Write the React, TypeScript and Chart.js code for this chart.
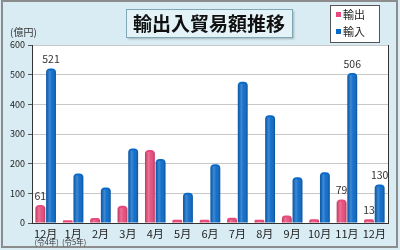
import React, { useEffect, useRef } from "react";
import { Chart, registerables } from "chart.js";

Chart.register(...registerables);

const months = ["12月", "1月", "2月", "3月", "4月", "5月", "6月", "7月", "8月", "9月", "10月", "11月", "12月"];
const subLabels = ["(令4年)", "(令5年)", "", "", "", "", "", "", "", "", "", "", ""];
const exportsData = [61, 9, 17, 58, 246, 11, 11, 18, 11, 25, 13, 79, 13];
const importsData = [521, 167, 120, 251, 216, 102, 198, 476, 363, 154, 171, 506, 130];
const labelIndices = [0, 11, 12];
const yTicks = [0, 100, 200, 300, 400, 500, 600];

const FONT = '"Noto Sans CJK JP", "Noto Sans", sans-serif';
const PINK = "#e8497a";
const BLUE = "#0868c8";

const decorPlugin = {
  id: "decor",
  beforeDraw(chart: any) {
    const ctx = chart.ctx;
    const { width, height } = chart;
    ctx.save();
    ctx.fillStyle = "#d9ecf3";
    ctx.fillRect(0, 0, width, height);
    ctx.strokeStyle = "#8c8c8c";
    ctx.lineWidth = 2;
    ctx.strokeRect(2, 1, width - 5, height - 4);
    const ca = chart.chartArea;
    ctx.fillStyle = "#ffffff";
    ctx.fillRect(ca.left, ca.top, ca.right - ca.left, ca.bottom - ca.top);
    // title box
    ctx.shadowColor = "rgba(0,0,0,0.25)";
    ctx.shadowOffsetX = 2;
    ctx.shadowOffsetY = 2;
    ctx.shadowBlur = 2;
    ctx.fillStyle = "#e4f3f8";
    ctx.fillRect(126, 9, 166, 28);
    ctx.shadowColor = "transparent";
    ctx.strokeStyle = "#7fa7b6";
    ctx.lineWidth = 1;
    ctx.strokeRect(126.5, 9.5, 166, 28);
    ctx.fillStyle = "#111";
    ctx.font = "bold 19px " + FONT;
    ctx.textAlign = "center";
    ctx.textBaseline = "middle";
    ctx.fillText("輸出入貿易額推移", 209, 24);
    // legend
    ctx.fillStyle = "#ffffff";
    ctx.fillRect(330, 5, 49, 37);
    ctx.strokeStyle = "#555";
    ctx.strokeRect(330.5, 5.5, 49, 37);
    ctx.fillStyle = PINK;
    ctx.fillRect(336, 12, 5, 5);
    ctx.fillStyle = BLUE;
    ctx.fillRect(336, 29, 5, 5);
    ctx.fillStyle = "#222";
    ctx.font = "11px " + FONT;
    ctx.textAlign = "left";
    ctx.fillText("輸出", 343, 15);
    ctx.fillText("輸入", 343, 32);
    // unit
    ctx.font = "10px " + FONT;
    ctx.fillStyle = "#333";
    ctx.fillText("(億円)", 10, 32);
    ctx.restore();
  },
  afterDatasetsDraw(chart: any) {
    const ctx = chart.ctx;
    ctx.save();
    // cylinder shading
    chart.data.datasets.forEach((_: any, di: number) => {
      const meta = chart.getDatasetMeta(di);
      meta.data.forEach((bar: any) => {
        const w = bar.width;
        const l = bar.x - w / 2;
        const g = ctx.createLinearGradient(l, 0, l + w, 0);
        g.addColorStop(0, "rgba(0,0,0,0.18)");
        g.addColorStop(0.35, "rgba(255,255,255,0.22)");
        g.addColorStop(0.6, "rgba(255,255,255,0.05)");
        g.addColorStop(1, "rgba(0,0,0,0.22)");
        ctx.fillStyle = g;
        const top = Math.min(bar.y, bar.base);
        const h = Math.abs(bar.base - bar.y);
        ctx.fillRect(l, top + 2, w, Math.max(0, h - 2));
      });
    });
    // value labels
    ctx.font = "10.5px " + FONT;
    ctx.fillStyle = "#333";
    ctx.textAlign = "center";
    ctx.textBaseline = "bottom";
    chart.data.datasets.forEach((ds: any, di: number) => {
      const meta = chart.getDatasetMeta(di);
      labelIndices.forEach((i) => {
        const bar = meta.data[i];
        ctx.fillText(String(ds.data[i]), bar.x, bar.y - 4);
      });
    });
    ctx.restore();
  },
  afterDraw(chart: any) {
    const ctx = chart.ctx;
    const ca = chart.chartArea;
    ctx.save();
    ctx.strokeStyle = "#333";
    ctx.lineWidth = 1;
    ctx.beginPath();
    ctx.moveTo(ca.right + 0.5, ca.top);
    ctx.lineTo(ca.right + 0.5, ca.bottom);
    ctx.stroke();
    const xs = chart.scales.x;
    ctx.font = "7.5px " + FONT;
    ctx.fillStyle = "#333";
    ctx.textAlign = "center";
    ctx.textBaseline = "middle";
    subLabels.forEach((s, i) => {
      if (s) ctx.fillText(s, xs.getPixelForValue(i) + 1, 242);
    });
    ctx.restore();
  },
};

export default function App() {
  const ref = useRef<HTMLCanvasElement | null>(null);
  useEffect(() => {
    if (!ref.current) return;
    const chart = new Chart(ref.current, {
      type: "bar",
      data: {
        labels: months,
        datasets: [
          {
            label: "輸出",
            data: exportsData,
            backgroundColor: PINK,
            borderRadius: { topLeft: 4, topRight: 4, bottomLeft: 0, bottomRight: 0 },
            borderSkipped: false,
            categoryPercentage: 0.78,
            barPercentage: 0.92,
          },
          {
            label: "輸入",
            data: importsData,
            backgroundColor: BLUE,
            borderRadius: { topLeft: 4, topRight: 4, bottomLeft: 0, bottomRight: 0 },
            borderSkipped: false,
            categoryPercentage: 0.78,
            barPercentage: 0.92,
          },
        ],
      },
      options: {
        animation: false,
        responsive: true,
        maintainAspectRatio: false,
        layout: { padding: { left: 0, top: 45, right: 12, bottom: 0 } },
        plugins: { legend: { display: false }, tooltip: { enabled: false } },
        scales: {
          x: {
            grid: { display: false, drawTicks: false },
            border: { display: true, color: "#333", width: 1 },
            ticks: { font: { size: 11, family: FONT }, color: "#222", padding: 4, maxRotation: 0, autoSkip: false },
            afterFit: (s: any) => { s.height = 27; },
          },
          y: {
            min: 0,
            max: 600,
            afterBuildTicks: (s: any) => { s.ticks = yTicks.map((v) => ({ value: v })); },
            grid: { color: "#c8c8c8", tickColor: "#555", tickLength: 4 },
            border: { display: true, color: "#333", width: 1 },
            ticks: { font: { size: 9, family: FONT }, color: "#222", padding: 3 },
            afterFit: (s: any) => { s.width = 32; },
          },
        },
      },
      plugins: [decorPlugin],
    });
    return () => chart.destroy();
  }, []);
  return (
    <div style={{ position: "fixed", left: 0, top: 0, width: 400, height: 250 }}>
      <canvas ref={ref} />
    </div>
  );
}
